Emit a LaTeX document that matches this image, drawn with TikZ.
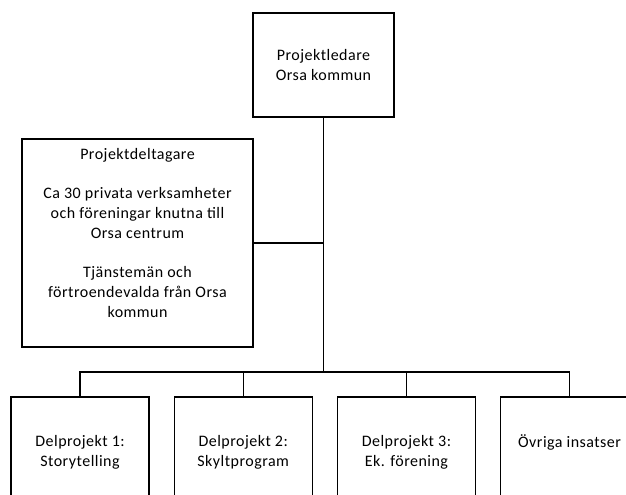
\documentclass[tikz,border=0pt]{standalone}
\usepackage{fontspec}
\setmainfont{Carlito}[LetterSpace=3]
\usetikzlibrary{positioning}

\begin{document}
\begin{tikzpicture}[x=0.75pt,y=-0.75pt,
        box/.style={draw,line width=0.9pt,align=center,inner sep=0pt,
                font=\fontsize{12}{14.8}\selectfont},
        unit/.style={box,minimum width=103.5pt,minimum height=82.5pt},
        link/.style={line width=0.9pt}]
        \useasboundingbox (0,0) rectangle (626,495);
        \clip (0,0) rectangle (626,495);

        \node[box,minimum width=105.75pt,minimum height=78pt] (ledare) at (323.5,65)
                {Projektledare\\Orsa kommun};
        \node[box,minimum width=173.25pt,minimum height=156pt] (deltagare) at (137.5,243) {};
        \node[box,draw=none,anchor=north] (deltagartext) at ([yshift=-7pt]deltagare.north)
                {Projektdeltagare\\[14.8pt]
                Ca 30 privata verksamheter\\och föreningar knutna till\\Orsa centrum\\[14.8pt]
                Tjänstemän och\\förtroendevalda från Orsa\\kommun};

        \node[unit] (del1) at (80,452) {Delprojekt 1:\\Storytelling};
        \node[unit] (del2) [right=18pt of del1] {Delprojekt 2:\\Skyltprogram};
        \node[unit] (del3) [right=18pt of del2] {Delprojekt 3:\\Ek. förening};
        \node[unit] (del4) [right=18pt of del3] {Övriga insatser\\\vphantom{Storytelling}};

        \coordinate (bar) at (323.5,372);
        \draw[link] (ledare) -- (bar);
        \draw[link] (deltagare) -- (deltagare -| ledare);
        \draw[link] (del1) |- (bar) -| (del4);
        \draw[link] (del2) -- (del2 |- bar);
        \draw[link] (del3) -- (del3 |- bar);
\end{tikzpicture}
\end{document}
